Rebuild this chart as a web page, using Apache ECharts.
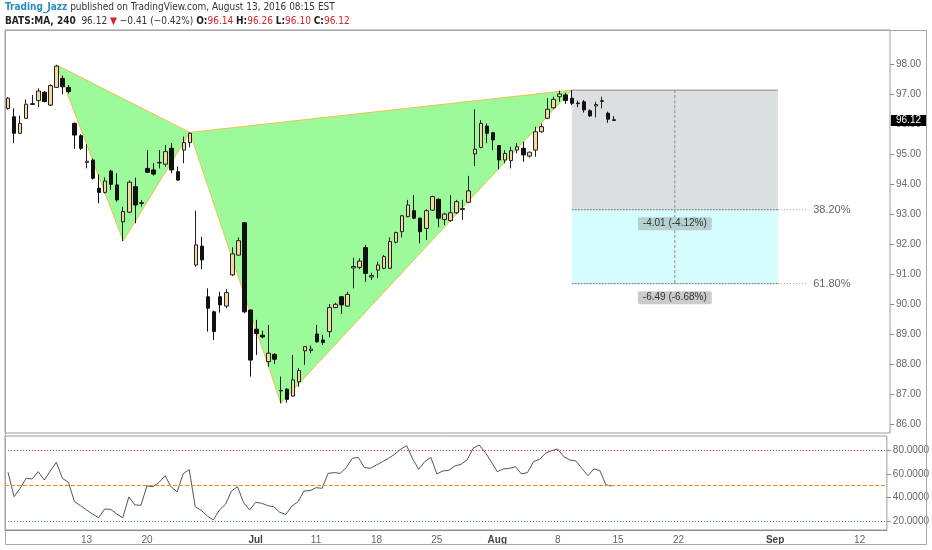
<!DOCTYPE html>
<html><head><meta charset="utf-8">
<script src="https://cdn.jsdelivr.net/npm/echarts@6/dist/echarts.min.js"></script>
<style>html,body{margin:0;padding:0;background:#fff}#c{width:932px;height:550px}</style>
</head><body><div id="c"></div>
<script>
// ---- trading days (4H bars: two per day); first bar is 2016-06-02 afternoon ----
const days = ['2016-06-02','2016-06-03','2016-06-06','2016-06-07','2016-06-08','2016-06-09','2016-06-10',
 '2016-06-13','2016-06-14','2016-06-15','2016-06-16','2016-06-17','2016-06-20','2016-06-21','2016-06-22','2016-06-23','2016-06-24',
 '2016-06-27','2016-06-28','2016-06-29','2016-06-30','2016-07-01','2016-07-05','2016-07-06','2016-07-07','2016-07-08',
 '2016-07-11','2016-07-12','2016-07-13','2016-07-14','2016-07-15','2016-07-18','2016-07-19','2016-07-20','2016-07-21','2016-07-22',
 '2016-07-25','2016-07-26','2016-07-27','2016-07-28','2016-07-29','2016-08-01','2016-08-02','2016-08-03','2016-08-04','2016-08-05',
 '2016-08-08','2016-08-09','2016-08-10','2016-08-11','2016-08-12','2016-08-15','2016-08-16','2016-08-17','2016-08-18','2016-08-19',
 '2016-08-22','2016-08-23','2016-08-24','2016-08-25','2016-08-26','2016-08-29','2016-08-30','2016-08-31','2016-09-01','2016-09-02',
 '2016-09-05','2016-09-06','2016-09-07','2016-09-08','2016-09-09','2016-09-12','2016-09-13','2016-09-14'];
const tickDates = ['2016-06-13','2016-06-20','2016-07-01','2016-07-11','2016-07-18','2016-07-25','2016-08-01','2016-08-08','2016-08-15','2016-08-22','2016-09-01','2016-09-12'];
const monthNames = ['Jan','Feb','Mar','Apr','May','Jun','Jul','Aug','Sep','Oct','Nov','Dec'];

// ---- OHLC ----
const opens = [96.52,96.24,95.69,96.19,96.65,96.78,97.06,96.63,97.22,97.52,97.22,96.02,95.61,94.72,94.80,93.86,93.72,94.43,93.97,92.74,
 93.06,93.91,93.35,94.52,94.47,94.70,94.66,95.19,94.41,95.13,95.38,91.30,91.93,90.24,89.74,90.24,89.93,90.97,91.63,92.71,
 89.80,89.16,88.96,88.08,88.32,87.10,87.16,86.93,87.41,88.44,88.45,89.00,88.80,89.08,89.88,90.24,89.93,91.20,91.22,91.88,
 90.90,91.13,91.19,91.19,92.06,92.41,92.91,93.11,92.86,92.52,93.13,93.49,92.82,92.78,93.04,93.15,93.39,95.00,95.22,95.93,
 95.71,95.28,94.80,94.78,95.13,95.19,94.93,95.13,95.74,96.19,96.54,96.91,96.97,96.86,96.70,96.74,96.44,96.60,96.75,96.36,96.14];
const closes = [96.86,95.69,96.02,96.66,96.68,97.10,96.75,97.28,97.93,97.24,97.08,95.63,95.19,94.76,94.19,93.72,94.10,93.99,93.47,93.08,
 94.06,93.30,93.38,94.39,94.33,94.72,95.08,94.47,94.13,95.38,95.69,91.97,91.47,89.86,89.08,89.97,90.38,91.67,92.11,89.74,
 88.13,89.02,88.90,88.36,88.16,87.12,86.82,87.47,87.78,88.58,88.50,88.74,88.72,89.88,89.99,89.97,90.32,91.25,91.43,91.02,
 90.95,91.30,91.58,92.08,92.38,92.94,93.30,92.86,92.41,93.11,93.58,92.86,93.00,93.04,93.41,93.18,93.77,95.16,96.02,95.69,
 95.47,94.80,95.02,95.11,95.24,94.97,95.06,95.74,95.91,96.49,96.82,97.00,96.78,96.69,96.68,96.47,96.27,96.65,96.78,96.16,96.12];
const lows = [96.48,95.36,95.66,96.17,96.63,96.56,96.72,96.60,97.20,96.99,97.02,95.17,95.13,94.52,94.15,93.36,93.68,93.80,93.41,92.10,
 93.03,92.69,93.24,94.36,94.28,94.52,94.58,94.36,94.11,94.69,95.22,91.24,91.16,89.08,88.80,89.71,89.86,90.93,91.61,89.69,
 87.58,88.30,88.86,87.91,88.00,86.69,86.71,86.91,87.24,87.97,88.36,88.71,88.63,88.89,89.86,89.67,89.91,90.52,91.16,90.74,
 90.80,90.86,91.16,91.17,92.02,92.22,92.89,92.83,92.02,92.13,93.10,92.56,92.63,92.74,93.00,92.80,93.36,94.60,95.19,95.36,
 95.13,94.49,94.69,94.52,95.02,94.74,94.88,94.91,95.71,96.16,96.51,96.74,96.67,96.63,96.56,96.38,96.24,96.22,96.52,96.04,96.10];
const highs = [96.90,96.52,96.28,96.82,96.97,97.19,97.10,97.32,97.97,97.61,97.30,96.05,95.66,95.32,94.85,94.32,94.22,94.47,94.36,93.24,
 94.12,94.21,93.47,95.13,94.69,95.13,95.30,95.36,94.58,95.58,95.72,93.11,92.24,90.52,89.78,90.41,90.49,91.89,92.22,92.73,
 89.82,89.47,89.11,89.30,88.36,87.58,87.19,88.30,87.86,88.60,88.62,89.30,88.97,90.00,90.04,90.27,90.41,91.54,91.52,91.97,
 91.04,91.41,91.63,92.22,92.41,92.97,93.47,93.63,92.88,93.16,93.61,93.52,93.04,93.63,93.47,93.47,94.27,96.49,96.13,96.02,
 95.74,95.30,95.13,95.24,95.36,95.41,95.08,95.91,96.02,96.86,96.91,97.11,97.04,97.13,96.78,96.80,96.49,96.74,96.91,96.41,96.26];

// ---- RSI ----
const rsi = [61.3,40.8,47.8,56.2,55.7,61.8,54.8,62.4,69.7,56.2,52.9,36.6,33.3,29.7,26.3,23.2,30.5,30.2,26.3,23.2,
 40.6,33.9,33.6,49.8,49.2,52.9,58.4,49.2,44.8,60.1,63.5,32.4,29.4,24.6,21.3,29.7,34.4,45.6,49.2,35.8,
 29.7,36.1,35.3,33.3,32.4,27.7,26.0,33.0,36.6,45.6,45.9,48.4,47.8,60.4,61.0,60.4,65.2,73.0,73.8,65.2,
 64.6,67.4,70.2,73.0,76.4,80.6,83.6,72.4,63.8,70.2,73.8,59.9,62.4,63.0,66.6,68.0,71.6,81.4,84.2,78.0,
 70.2,61.8,64.1,64.6,66.0,59.9,61.0,70.2,72.2,77.2,79.4,80.8,74.4,71.6,70.8,64.6,58.4,64.1,62.6,50.6,49.8];
const rsiLevels = [80, 50, 20];

// ---- harmonic pattern X A B C D (bar index, price) ----
const patternBars = [8, 19, 30, 45, 93];
const patternPrices = [97.97, 92.10, 95.72, 86.69, 97.13];

// ---- fib retracement of C->D leg ----
const fibStartBar = 93, fibEndBar = 127, fibExtendBar = 132;
const fibRatios = [0.382, 0.618];
const fibPctLabels = ['38.20%', '61.80%'];
const fibDiffLabels = ['-4.01 (-4.12%)', '-6.49 (-6.68%)'];
const lastPrice = 96.12;

const priceTicks = [86,87,88,89,90,91,92,93,94,95,96,97,98];
const rsiTicks = [20,40,60,80];

// ---- build ----
const categories = days.flatMap(d => [d + ' 09:30', d + ' 13:30']).slice(1, 147);
const candles = opens.map((o, i) => [o, closes[i], lows[i], highs[i]]);
const triangles = [
  [patternBars[0], patternPrices[0], patternBars[1], patternPrices[1], patternBars[2], patternPrices[2]],
  [patternBars[2], patternPrices[2], patternBars[3], patternPrices[3], patternBars[4], patternPrices[4]]
];
const D = patternPrices[4], C = patternPrices[3];

const FONT = '"Liberation Sans", Arial, sans-serif';
const HFONT = '"Liberation Sans Narrow","DejaVu Sans Condensed",sans-serif';
const chart = echarts.init(document.getElementById('c'));
chart.setOption({
  animation: false,
  backgroundColor: '#fff',
  textStyle: { fontFamily: FONT },
  grid: [
    { left: 5, right: 42, top: 30, height: 403, show: true, borderColor: '#9a9a9a', borderWidth: 1 },
    { left: 5, right: 42, top: 436, height: 94, show: true, borderColor: '#9a9a9a', borderWidth: 1 }
  ],
  xAxis: [
    { type: 'category', gridIndex: 0, data: categories, boundaryGap: true,
      axisLine: { show: false }, axisTick: { show: false }, axisLabel: { show: false }, splitLine: { show: false } },
    { type: 'category', gridIndex: 1, data: categories, boundaryGap: true,
      axisLine: { show: true, lineStyle: { color: '#8a8a8a' } }, axisTick: { show: false }, splitLine: { show: false },
      axisLabel: {
        margin: 5, fontSize: 10, color: '#666', fontFamily: FONT,
        interval: (idx, val) => val.endsWith('09:30') && tickDates.includes(val.slice(0, 10)),
        formatter: (val) => {
          const m = +val.slice(5, 7), d = +val.slice(8, 10);
          return d === 1 ? '{b|' + monthNames[m - 1] + '}' : String(d);
        },
        rich: { b: { fontWeight: 'bold', color: '#444', fontSize: 10, fontFamily: FONT } }
      } }
  ],
  yAxis: [
    { type: 'value', gridIndex: 0, position: 'right', min: 85.7, max: 99.133, scale: true,
      axisLine: { show: false }, splitLine: { show: false },
      axisTick: { show: true, length: 4, lineStyle: { color: '#8a8a8a' }, customValues: priceTicks },
      axisLabel: { margin: 6, fontSize: 10, color: '#666', fontFamily: FONT, customValues: priceTicks, formatter: v => v.toFixed(2) } },
    { type: 'value', gridIndex: 1, position: 'right', min: 12.9, max: 91.7,
      axisLine: { show: false }, splitLine: { show: false },
      axisTick: { show: true, length: 4, lineStyle: { color: '#8a8a8a' }, customValues: rsiTicks },
      axisLabel: { margin: 6, fontSize: 10, color: '#666', fontFamily: FONT, customValues: rsiTicks, formatter: v => v.toFixed(4) } }
  ],
  graphic: [
    { type: 'rect', shape: { x: 5.5, y: 30.5, width: 921, height: 514 }, style: { fill: 'none', stroke: '#a8a8a8', lineWidth: 1 }, silent: true, z: 100 },
    { type: 'text', left: 5, top: 2, style: {
        text: '{u|Trading_Jazz}{t| published on TradingView.com, August 13, 2016 08:15 EST}',
        rich: {
          u: { fill: '#2b8bc6', fontWeight: 'bold', fontSize: 10, fontFamily: HFONT },
          t: { fill: '#333', fontSize: 10, fontFamily: HFONT }
        } } },
    { type: 'text', left: 5, top: 16, style: {
        text: '{b|BATS:MA, 240}{t|  96.12 }{r|▼}{t| −0.41 (−0.42%) }{b|O:}{r|96.14}{t| }{b|H:}{r|96.26}{t| }{b|L:}{r|96.10}{t| }{b|C:}{r|96.12}',
        rich: {
          b: { fill: '#222', fontWeight: 'bold', fontSize: 10, fontFamily: HFONT },
          t: { fill: '#333', fontSize: 10, fontFamily: HFONT },
          r: { fill: '#d3262b', fontSize: 10, fontFamily: HFONT }
        } } }
  ],
  series: [
    { // fib box
      type: 'custom', xAxisIndex: 0, yAxisIndex: 0, z: 1, silent: true,
      data: [[fibStartBar, fibEndBar, D, C]],
      encode: { x: [0, 1], y: [2, 3] },
      renderItem: (params, api) => {
        const x0 = api.coord([api.value(0), D])[0];
        const x1 = api.coord([api.value(1), D])[0];
        const xe = api.coord([fibExtendBar, D])[0];
        const xm = api.coord([(fibStartBar + fibEndBar) / 2, D])[0];
        const yTop = api.coord([fibStartBar, D])[1];
        const ys = fibRatios.map(r => api.coord([fibStartBar, D - r * (D - C)])[1]);
        const ch = [
          { type: 'rect', shape: { x: x0, y: yTop, width: x1 - x0, height: ys[0] - yTop }, style: { fill: '#dcdfe0' } },
          { type: 'rect', shape: { x: x0, y: ys[0], width: x1 - x0, height: ys[1] - ys[0] }, style: { fill: '#d6fdfd' } },
          { type: 'line', shape: { x1: x0, y1: yTop, x2: x1, y2: yTop }, style: { stroke: '#8c8c8c', lineWidth: 1 } },
          { type: 'line', shape: { x1: xm, y1: yTop, x2: xm, y2: ys[1] }, style: { stroke: '#8c8c8c', lineWidth: 1, lineDash: [3, 2] } }
        ];
        ys.forEach((y, k) => {
          ch.push({ type: 'line', shape: { x1: x0, y1: y, x2: x1, y2: y }, style: { stroke: '#777', lineWidth: 1, lineDash: [2, 1] } });
          ch.push({ type: 'line', shape: { x1: x1, y1: y, x2: xe, y2: y }, style: { stroke: '#999', lineWidth: 1, lineDash: [1, 2] } });
          ch.push({ type: 'text', x: xe + 5, y: y, style: { text: fibPctLabels[k], fill: '#666', font: '11px ' + FONT, align: 'left', verticalAlign: 'middle' } });
          ch.push({ type: 'text', x: xm, y: y + 14, style: { text: fibDiffLabels[k], fill: '#333', font: '10px ' + FONT, align: 'center', verticalAlign: 'middle',
            backgroundColor: k === 0 ? '#b4d0d0' : '#cbcbcb', padding: [2, 5, 1, 5], borderRadius: 2 } });
        });
        return { type: 'group', children: ch };
      }
    },
    { // harmonic pattern
      type: 'custom', xAxisIndex: 0, yAxisIndex: 0, z: 1, silent: true,
      data: triangles,
      encode: { x: [0, 2, 4], y: [1, 3, 5] },
      renderItem: (params, api) => {
        const pts = [0, 1, 2].map(k => api.coord([api.value(2 * k), api.value(2 * k + 1)]));
        return { type: 'polygon', shape: { points: pts }, style: { fill: '#9cfa9a', stroke: '#f0c050', lineWidth: 1 } };
      }
    },
    {
      type: 'candlestick', xAxisIndex: 0, yAxisIndex: 0, z: 3, data: candles, barWidth: 4,
      itemStyle: { color: '#f3d8a2', color0: '#111', borderColor: '#222', borderColor0: '#111', borderWidth: 1 }
    },
    { // last price tag on the price scale
      type: 'custom', xAxisIndex: 0, yAxisIndex: 0, z: 5, silent: true, clip: false,
      data: [[opens.length - 1, lastPrice]],
      renderItem: (params, api) => {
        const y = api.coord([api.value(0), api.value(1)])[1];
        const x = params.coordSys.x + params.coordSys.width;
        return { type: 'group', children: [
          { type: 'rect', shape: { x: x + 1, y: y - 5.5, width: 35, height: 11 }, style: { fill: '#000' } },
          { type: 'text', x: x + 6, y: y, style: { text: api.value(1).toFixed(2), fill: '#fff', font: '10px ' + FONT, align: 'left', verticalAlign: 'middle' } }
        ] };
      }
    },
    {
      type: 'line', xAxisIndex: 1, yAxisIndex: 1, data: rsi, symbol: 'none', z: 3,
      lineStyle: { color: '#555', width: 1 },
      markLine: {
        silent: true, symbol: 'none', animation: false, label: { show: false },
        data: [
          { yAxis: rsiLevels[0], lineStyle: { color: '#e0332e', type: [1, 2], width: 1 } },
          { yAxis: rsiLevels[1], lineStyle: { color: '#f08a1c', type: [4, 2], width: 1 } },
          { yAxis: rsiLevels[2], lineStyle: { color: '#2d9a2d', type: [1, 2], width: 1 } }
        ]
      }
    }
  ]
});
</script>
</body></html>
